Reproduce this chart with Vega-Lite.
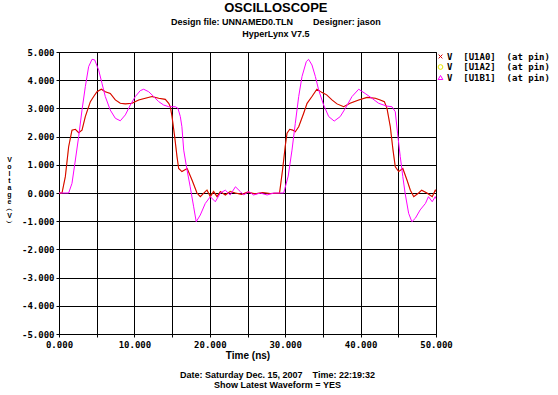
{
  "$schema": "https://vega.github.io/schema/vega-lite/v6.json",
  "background": "white",
  "padding": {"left": 5, "top": 1, "right": 0, "bottom": 0},
  "title": {
    "text": ["Date: Saturday Dec. 15, 2007\u00a0\u00a0\u00a0\u00a0Time: 22:19:32", "Show Latest Waveform = YES"],
    "orient": "bottom", "frame": "bounds", "anchor": "middle",
    "font": "Liberation Sans", "fontSize": 9, "fontWeight": "bold", "color": "black",
    "lineHeight": 10.5, "offset": 10
  },
  "datasets": {
    "w": [
      {"s":"A2","t":0,"v":0},{"s":"A2","t":0.4,"v":0},{"s":"A2","t":0.84,"v":0.58},{"s":"A2","t":1.28,"v":1.64},{"s":"A2","t":1.72,"v":2.23},{"s":"A2","t":2.17,"v":2.26},{"s":"A2","t":2.61,"v":2.14},{"s":"A2","t":3.05,"v":2.23},{"s":"A2","t":3.49,"v":2.71},{"s":"A2","t":4.16,"v":3.24},{"s":"A2","t":4.6,"v":3.42},{"s":"A2","t":5.04,"v":3.59},{"s":"A2","t":5.61,"v":3.68},{"s":"A2","t":6.14,"v":3.59},{"s":"A2","t":6.8,"v":3.53},{"s":"A2","t":7.47,"v":3.3},{"s":"A2","t":8.13,"v":3.18},{"s":"A2","t":8.8,"v":3.16},{"s":"A2","t":9.68,"v":3.18},{"s":"A2","t":10.57,"v":3.3},{"s":"A2","t":11.45,"v":3.36},{"s":"A2","t":12.33,"v":3.42},{"s":"A2","t":13.22,"v":3.36},{"s":"A2","t":14.1,"v":3.32},{"s":"A2","t":14.55,"v":3.18},{"s":"A2","t":14.76,"v":3.06},{"s":"A2","t":14.99,"v":2.71},{"s":"A2","t":15.34,"v":2.0},{"s":"A2","t":15.65,"v":1.29},{"s":"A2","t":15.87,"v":0.87},{"s":"A2","t":16.3,"v":0.76},{"s":"A2","t":17.0,"v":0.87},{"s":"A2","t":17.64,"v":0.46},{"s":"A2","t":18.3,"v":0},{"s":"A2","t":18.74,"v":-0.13},{"s":"A2","t":19.4,"v":0.05},{"s":"A2","t":19.63,"v":0.12},{"s":"A2","t":20.07,"v":-0.1},{"s":"A2","t":20.5,"v":0.08},{"s":"A2","t":20.96,"v":-0.1},{"s":"A2","t":21.4,"v":0.05},{"s":"A2","t":22.06,"v":-0.07},{"s":"A2","t":22.7,"v":0.08},{"s":"A2","t":23.4,"v":0},{"s":"A2","t":24.2,"v":-0.05},{"s":"A2","t":25.0,"v":0.03},{"s":"A2","t":26.0,"v":-0.03},{"s":"A2","t":27.0,"v":0.02},{"s":"A2","t":28.0,"v":-0.02},{"s":"A2","t":29.25,"v":0},{"s":"A2","t":29.65,"v":0.82},{"s":"A2","t":30.0,"v":1.65},{"s":"A2","t":30.24,"v":2.12},{"s":"A2","t":30.6,"v":2.26},{"s":"A2","t":31.0,"v":2.23},{"s":"A2","t":31.34,"v":2.17},{"s":"A2","t":31.79,"v":2.35},{"s":"A2","t":32.45,"v":2.83},{"s":"A2","t":32.9,"v":3.18},{"s":"A2","t":33.55,"v":3.42},{"s":"A2","t":34.2,"v":3.68},{"s":"A2","t":34.9,"v":3.56},{"s":"A2","t":35.5,"v":3.48},{"s":"A2","t":36.2,"v":3.3},{"s":"A2","t":36.87,"v":3.16},{"s":"A2","t":37.76,"v":3.06},{"s":"A2","t":38.6,"v":3.18},{"s":"A2","t":39.75,"v":3.3},{"s":"A2","t":40.85,"v":3.39},{"s":"A2","t":41.95,"v":3.36},{"s":"A2","t":42.6,"v":3.3},{"s":"A2","t":43.15,"v":3.24},{"s":"A2","t":43.5,"v":3.0},{"s":"A2","t":43.94,"v":2.35},{"s":"A2","t":44.3,"v":1.52},{"s":"A2","t":44.6,"v":0.93},{"s":"A2","t":45.05,"v":0.76},{"s":"A2","t":45.6,"v":0.87},{"s":"A2","t":46.15,"v":0.46},{"s":"A2","t":46.6,"v":0.1},{"s":"A2","t":47.05,"v":-0.13},{"s":"A2","t":47.7,"v":0},{"s":"A2","t":48.1,"v":0.1},{"s":"A2","t":48.8,"v":0},{"s":"A2","t":49.5,"v":-0.13},{"s":"A2","t":49.9,"v":0.1},{"s":"A2","t":50,"v":0.05},

      {"s":"A0","t":0,"v":0},{"s":"A0","t":0.4,"v":0},{"s":"A0","t":0.84,"v":0.58},{"s":"A0","t":1.28,"v":1.64},{"s":"A0","t":1.72,"v":2.23},{"s":"A0","t":2.17,"v":2.26},{"s":"A0","t":2.61,"v":2.14},{"s":"A0","t":3.05,"v":2.23},{"s":"A0","t":3.49,"v":2.71},{"s":"A0","t":4.16,"v":3.24},{"s":"A0","t":4.6,"v":3.42},{"s":"A0","t":5.04,"v":3.59},{"s":"A0","t":5.61,"v":3.68},{"s":"A0","t":6.14,"v":3.59},{"s":"A0","t":6.8,"v":3.53},{"s":"A0","t":7.47,"v":3.3},{"s":"A0","t":8.13,"v":3.18},{"s":"A0","t":8.8,"v":3.16},{"s":"A0","t":9.68,"v":3.18},{"s":"A0","t":10.57,"v":3.3},{"s":"A0","t":11.45,"v":3.36},{"s":"A0","t":12.33,"v":3.42},{"s":"A0","t":13.22,"v":3.36},{"s":"A0","t":14.1,"v":3.32},{"s":"A0","t":14.55,"v":3.18},{"s":"A0","t":14.76,"v":3.06},{"s":"A0","t":14.99,"v":2.71},{"s":"A0","t":15.34,"v":2.0},{"s":"A0","t":15.65,"v":1.29},{"s":"A0","t":15.87,"v":0.87},{"s":"A0","t":16.3,"v":0.76},{"s":"A0","t":17.0,"v":0.87},{"s":"A0","t":17.64,"v":0.46},{"s":"A0","t":18.3,"v":0},{"s":"A0","t":18.74,"v":-0.13},{"s":"A0","t":19.4,"v":0.05},{"s":"A0","t":19.63,"v":0.1},{"s":"A0","t":20.07,"v":-0.13},{"s":"A0","t":20.5,"v":0.05},{"s":"A0","t":20.96,"v":-0.13},{"s":"A0","t":21.4,"v":0.05},{"s":"A0","t":22.06,"v":-0.07},{"s":"A0","t":22.7,"v":0.05},{"s":"A0","t":23.4,"v":0},{"s":"A0","t":24.2,"v":-0.05},{"s":"A0","t":25.0,"v":0.03},{"s":"A0","t":26.0,"v":-0.03},{"s":"A0","t":27.0,"v":0.02},{"s":"A0","t":28.0,"v":-0.02},{"s":"A0","t":29.25,"v":0},{"s":"A0","t":29.65,"v":0.82},{"s":"A0","t":30.0,"v":1.65},{"s":"A0","t":30.24,"v":2.12},{"s":"A0","t":30.6,"v":2.26},{"s":"A0","t":31.0,"v":2.23},{"s":"A0","t":31.34,"v":2.17},{"s":"A0","t":31.79,"v":2.35},{"s":"A0","t":32.45,"v":2.83},{"s":"A0","t":32.9,"v":3.18},{"s":"A0","t":33.55,"v":3.42},{"s":"A0","t":34.2,"v":3.68},{"s":"A0","t":34.9,"v":3.56},{"s":"A0","t":35.5,"v":3.48},{"s":"A0","t":36.2,"v":3.3},{"s":"A0","t":36.87,"v":3.16},{"s":"A0","t":37.76,"v":3.06},{"s":"A0","t":38.6,"v":3.18},{"s":"A0","t":39.75,"v":3.3},{"s":"A0","t":40.85,"v":3.39},{"s":"A0","t":41.95,"v":3.36},{"s":"A0","t":42.6,"v":3.3},{"s":"A0","t":43.15,"v":3.24},{"s":"A0","t":43.5,"v":3.0},{"s":"A0","t":43.94,"v":2.35},{"s":"A0","t":44.3,"v":1.52},{"s":"A0","t":44.6,"v":0.93},{"s":"A0","t":45.05,"v":0.76},{"s":"A0","t":45.6,"v":0.87},{"s":"A0","t":46.15,"v":0.46},{"s":"A0","t":46.6,"v":0.1},{"s":"A0","t":47.05,"v":-0.13},{"s":"A0","t":47.7,"v":0},{"s":"A0","t":48.1,"v":0.1},{"s":"A0","t":48.8,"v":0},{"s":"A0","t":49.5,"v":-0.13},{"s":"A0","t":49.9,"v":0.1},{"s":"A0","t":50,"v":0.05},

      {"s":"B1","t":0,"v":0},{"s":"B1","t":1.28,"v":0},{"s":"B1","t":1.72,"v":0.34},{"s":"B1","t":2.17,"v":1.17},{"s":"B1","t":2.61,"v":2.0},{"s":"B1","t":3.05,"v":2.94},{"s":"B1","t":3.49,"v":3.77},{"s":"B1","t":3.93,"v":4.48},{"s":"B1","t":4.38,"v":4.74},{"s":"B1","t":4.73,"v":4.72},{"s":"B1","t":5.26,"v":4.36},{"s":"B1","t":5.7,"v":3.89},{"s":"B1","t":6.14,"v":3.42},{"s":"B1","t":6.8,"v":2.94},{"s":"B1","t":7.47,"v":2.65},{"s":"B1","t":8.13,"v":2.56},{"s":"B1","t":8.8,"v":2.77},{"s":"B1","t":9.46,"v":3.12},{"s":"B1","t":10.12,"v":3.42},{"s":"B1","t":10.78,"v":3.63},{"s":"B1","t":11.23,"v":3.68},{"s":"B1","t":11.9,"v":3.59},{"s":"B1","t":12.56,"v":3.42},{"s":"B1","t":13.22,"v":3.24},{"s":"B1","t":13.88,"v":3.12},{"s":"B1","t":14.55,"v":3.06},{"s":"B1","t":15.43,"v":3.06},{"s":"B1","t":15.78,"v":3.0},{"s":"B1","t":16.09,"v":2.71},{"s":"B1","t":16.3,"v":2.35},{"s":"B1","t":16.54,"v":1.52},{"s":"B1","t":16.98,"v":0.82},{"s":"B1","t":17.4,"v":0.22},{"s":"B1","t":17.86,"v":-0.49},{"s":"B1","t":18.2,"v":-1.02},{"s":"B1","t":18.74,"v":-0.78},{"s":"B1","t":19.4,"v":-0.37},{"s":"B1","t":20.07,"v":-0.13},{"s":"B1","t":20.73,"v":-0.31},{"s":"B1","t":21.4,"v":0},{"s":"B1","t":22.06,"v":0.1},{"s":"B1","t":22.7,"v":-0.07},{"s":"B1","t":23.4,"v":0.22},{"s":"B1","t":24.05,"v":0.05},{"s":"B1","t":24.5,"v":-0.07},{"s":"B1","t":25.16,"v":0.05},{"s":"B1","t":25.8,"v":-0.07},{"s":"B1","t":26.7,"v":0},{"s":"B1","t":27.6,"v":-0.07},{"s":"B1","t":28.5,"v":0},{"s":"B1","t":29.8,"v":0},{"s":"B1","t":30.4,"v":0.6},{"s":"B1","t":30.9,"v":1.52},{"s":"B1","t":31.34,"v":2.47},{"s":"B1","t":31.79,"v":3.42},{"s":"B1","t":32.23,"v":4.13},{"s":"B1","t":32.8,"v":4.66},{"s":"B1","t":33.1,"v":4.74},{"s":"B1","t":33.55,"v":4.54},{"s":"B1","t":34.0,"v":4.13},{"s":"B1","t":34.44,"v":3.65},{"s":"B1","t":35.1,"v":3.12},{"s":"B1","t":35.77,"v":2.71},{"s":"B1","t":36.5,"v":2.55},{"s":"B1","t":37.3,"v":2.71},{"s":"B1","t":37.97,"v":3.0},{"s":"B1","t":38.86,"v":3.42},{"s":"B1","t":39.75,"v":3.68},{"s":"B1","t":40.6,"v":3.53},{"s":"B1","t":41.5,"v":3.36},{"s":"B1","t":42.4,"v":3.18},{"s":"B1","t":43.5,"v":3.08},{"s":"B1","t":44.16,"v":3.06},{"s":"B1","t":44.6,"v":2.88},{"s":"B1","t":44.9,"v":2.12},{"s":"B1","t":45.26,"v":1.29},{"s":"B1","t":45.6,"v":0.58},{"s":"B1","t":45.9,"v":0},{"s":"B1","t":46.37,"v":-0.72},{"s":"B1","t":46.8,"v":-1.02},{"s":"B1","t":47.25,"v":-0.9},{"s":"B1","t":47.9,"v":-0.6},{"s":"B1","t":48.6,"v":-0.37},{"s":"B1","t":49.0,"v":-0.13},{"s":"B1","t":49.5,"v":-0.31},{"s":"B1","t":49.9,"v":-0.13},{"s":"B1","t":50,"v":-0.2}
    ]
  },
  "vconcat": [
    {
      "width": 377,
      "height": 282,
      "title": {
        "text": "OSCILLOSCOPE",
        "subtitle": ["Design file: UNNAMED0.TLN\u00a0\u00a0\u00a0\u00a0\u00a0\u00a0\u00a0\u00a0Designer: jason", "HyperLynx V7.5"],
        "frame": "bounds", "anchor": "middle", "dx": 47,
        "font": "Liberation Sans", "fontSize": 13, "fontWeight": "bold", "color": "black",
        "subtitleFont": "Liberation Sans", "subtitleFontSize": 9, "subtitleFontWeight": "bold", "subtitleColor": "black",
        "subtitlePadding": 3, "subtitleLineHeight": 12, "offset": 9
      },
      "data": {"name": "w"},
      "encoding": {
        "x": {"field": "t", "type": "quantitative",
          "scale": {"domain": [0, 50], "nice": false, "zero": false},
          "axis": {"values": [0,5,10,15,20,25,30,35,40,45,50],
            "labelExpr": "datum.value % 10 == 0 ? format(datum.value, '.3f') : ''",
            "labelFlush": false, "labelOverlap": false, "labelPadding": 3,
            "title": "Time (ns)", "titleFont": "Liberation Sans", "titleFontSize": 10, "titleFontWeight": "bold", "titlePadding": 1}},
        "y": {"field": "v", "type": "quantitative",
          "scale": {"domain": [-5, 5], "nice": false, "zero": false},
          "axis": {"values": [-5,-4,-3,-2,-1,0,1,2,3,4,5],
            "labelExpr": "(datum.value < 0 ? '-' : '') + format(abs(datum.value), '.3f')",
            "labelPadding": 2, "labelOverlap": false,
            "title": ["V","o","l","t","a","g","e","︵","V","︶"],
            "titleAngle": 0, "titleAlign": "center", "titleBaseline": "top",
            "titleX": -50, "titleY": 103, "titleFont": "Liberation Sans", "titleFontSize": 7, "titleFontWeight": "bold", "titleLineHeight": 7}}
      },
      "layer": [
        {"transform": [{"filter": "datum.s == 'A2'"}], "mark": {"type": "line", "color": "#e8e800", "strokeWidth": 0.4, "clip": true}},
        {"transform": [{"filter": "datum.s == 'A0'"}], "mark": {"type": "line", "color": "#d80000", "strokeWidth": 1.1, "clip": true}},
        {"transform": [{"filter": "datum.s == 'B1'"}], "mark": {"type": "line", "color": "#ff00ff", "strokeWidth": 1, "clip": true}},
        {
          "transform": [{"filter": "datum.t == 0"}],
          "mark": {"type": "point", "filled": false, "opacity": 0},
          "encoding": {
            "color": {"field": "s", "type": "nominal",
              "scale": {"domain": ["A0","A2","B1"], "range": ["#d80000","#e8e800","#ff00ff"]},
              "legend": {"orient": "none", "legendX": 377, "legendY": 0, "title": null, "padding": 0,
                "labelExpr": "'V\u00a0\u00a0[U1' + datum.label + ']\u00a0\u00a0(at pin)'",
                "labelFont": "DejaVu Sans Mono", "labelFontSize": 9, "labelFontWeight": "bold", "labelColor": "black",
                "labelOffset": 2, "symbolSize": 22, "symbolOpacity": 1, "symbolStrokeWidth": 1, "rowPadding": 0.5}},
            "shape": {"field": "s", "type": "nominal",
              "scale": {"domain": ["A0","A2","B1"], "range": ["M-0.8,-0.8L0.8,0.8M0.8,-0.8L-0.8,0.8","circle","triangle-up"]},
              "legend": {"orient": "none", "legendX": 377, "legendY": 0, "title": null, "padding": 0,
                "labelExpr": "'V\u00a0\u00a0[U1' + datum.label + ']\u00a0\u00a0(at pin)'",
                "labelFont": "DejaVu Sans Mono", "labelFontSize": 9, "labelFontWeight": "bold", "labelColor": "black",
                "labelOffset": 2, "symbolSize": 22, "symbolOpacity": 1, "symbolStrokeWidth": 1, "rowPadding": 0.5}}
          }
        }
      ]
    }
  ],
  "config": {
    "view": {"stroke": "black"},
    "axis": {"domainColor": "black", "tickColor": "black", "gridColor": "black", "gridOpacity": 1, "gridWidth": 1,
      "labelFont": "DejaVu Sans Mono", "labelFontSize": 9, "labelFontWeight": "bold", "labelColor": "black",
      "tickSize": 3, "titleColor": "black"}
  }
}
